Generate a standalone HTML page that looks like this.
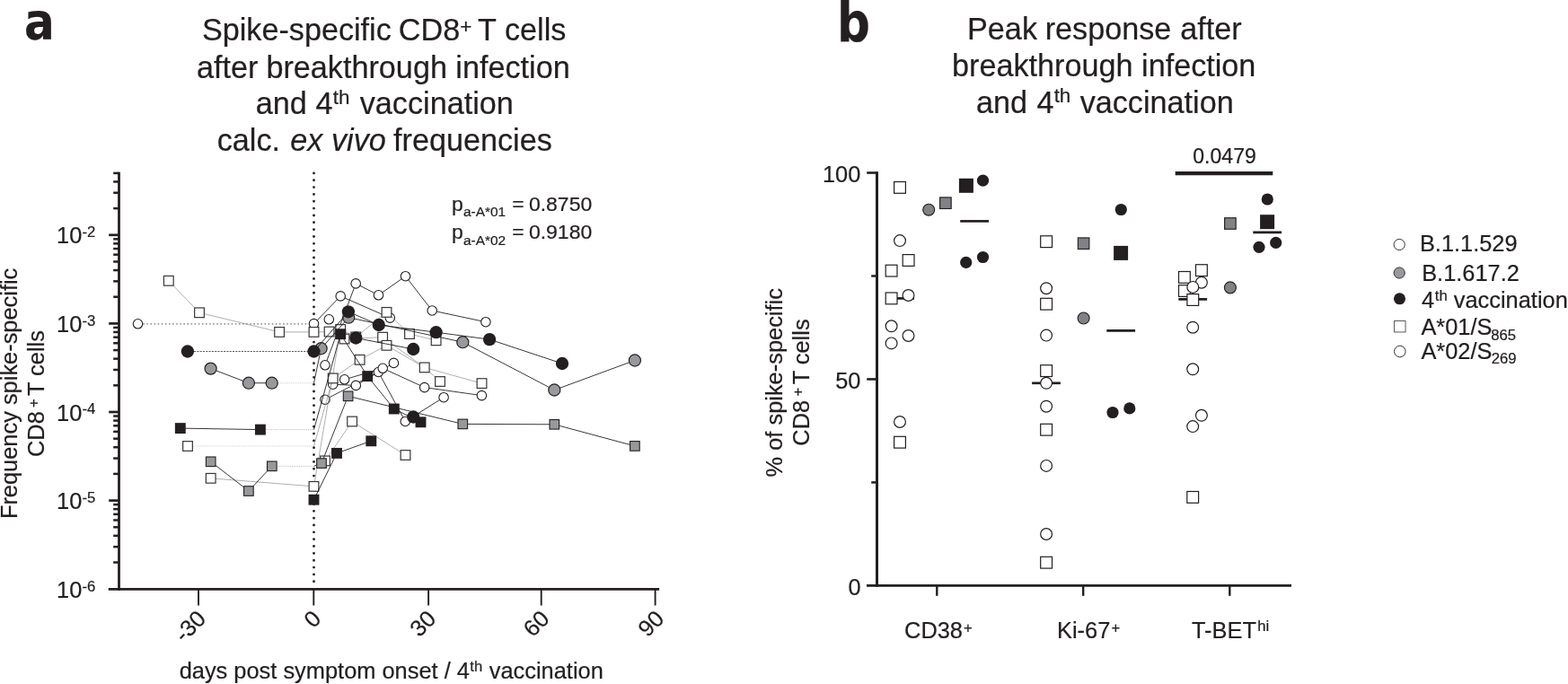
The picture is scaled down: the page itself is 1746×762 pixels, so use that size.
<!DOCTYPE html>
<html lang="en"><head><meta charset="utf-8"><title>Spike-specific CD8+ T cells after breakthrough infection and 4th vaccination</title>
<style>
html,body{margin:0;padding:0;background:#fff;overflow:hidden}
svg{display:block}
text{font-family:'Liberation Sans',sans-serif;fill:#231f20;white-space:pre;stroke:#231f20;stroke-width:0.22px;stroke-linejoin:round}
</style></head>
<body>
<svg width="1746" height="762" viewBox="0 0 1746 762">
<rect width="1746" height="762" fill="#fff"/>
<g id="panel-a">
<text transform="scale(0.87,1)" x="31.18" y="43.90" style="font-size:57.5px;font-weight:bold;font-family:'DejaVu Sans','Liberation Sans',sans-serif">a</text>
<text><tspan x="224.90" y="45.40" style="font-size:34.2px;">Spike-specific</tspan> <tspan x="443.75" y="45.40" style="font-size:34.2px;">CD8</tspan><tspan x="512.30" y="37.00" style="font-size:22.4px;">+</tspan> <tspan x="531.95" y="45.40" style="font-size:34.2px;">T</tspan> <tspan x="562.00" y="45.40" style="font-size:34.2px;">cells</tspan></text>
<text><tspan x="219.00" y="87.00" style="font-size:34.2px;">after</tspan> <tspan x="296.45" y="87.00" style="font-size:34.2px;">breakthrough</tspan> <tspan x="507.35" y="87.00" style="font-size:34.2px;">infection</tspan></text>
<text><tspan x="284.70" y="127.40" style="font-size:34.2px;">and</tspan> <tspan x="351.55" y="127.40" style="font-size:34.2px;">4</tspan><tspan x="370.75" y="116.15" style="font-size:22.4px;">th</tspan> <tspan x="400.75" y="127.40" style="font-size:34.2px;">vaccination</tspan></text>
<text><tspan x="241.70" y="168.00" style="font-size:34.2px;">calc.</tspan> <tspan x="323.15" y="168.00" style="font-size:34.2px;font-style:italic">ex</tspan> <tspan x="369.00" y="168.00" style="font-size:34.2px;font-style:italic">vivo</tspan> <tspan x="438.00" y="168.00" style="font-size:34.2px;">frequencies</tspan></text>
<line x1="132.50" y1="191.63" x2="132.50" y2="657.70" stroke="#231f20" stroke-width="2.8" />
<line x1="120.80" y1="656.30" x2="734.10" y2="656.30" stroke="#231f20" stroke-width="2.8" />
<line x1="126.20" y1="626.52" x2="132.50" y2="626.52" stroke="#231f20" stroke-width="2.5" />
<line x1="126.20" y1="609.16" x2="132.50" y2="609.16" stroke="#231f20" stroke-width="2.5" />
<line x1="126.20" y1="596.84" x2="132.50" y2="596.84" stroke="#231f20" stroke-width="2.5" />
<line x1="126.20" y1="587.28" x2="132.50" y2="587.28" stroke="#231f20" stroke-width="2.5" />
<line x1="126.20" y1="579.47" x2="132.50" y2="579.47" stroke="#231f20" stroke-width="2.5" />
<line x1="126.20" y1="572.87" x2="132.50" y2="572.87" stroke="#231f20" stroke-width="2.5" />
<line x1="126.20" y1="567.16" x2="132.50" y2="567.16" stroke="#231f20" stroke-width="2.5" />
<line x1="126.20" y1="562.11" x2="132.50" y2="562.11" stroke="#231f20" stroke-width="2.5" />
<line x1="121.20" y1="557.60" x2="132.50" y2="557.60" stroke="#231f20" stroke-width="2.7" />
<line x1="126.20" y1="527.92" x2="132.50" y2="527.92" stroke="#231f20" stroke-width="2.5" />
<line x1="126.20" y1="510.56" x2="132.50" y2="510.56" stroke="#231f20" stroke-width="2.5" />
<line x1="126.20" y1="498.24" x2="132.50" y2="498.24" stroke="#231f20" stroke-width="2.5" />
<line x1="126.20" y1="488.68" x2="132.50" y2="488.68" stroke="#231f20" stroke-width="2.5" />
<line x1="126.20" y1="480.87" x2="132.50" y2="480.87" stroke="#231f20" stroke-width="2.5" />
<line x1="126.20" y1="474.27" x2="132.50" y2="474.27" stroke="#231f20" stroke-width="2.5" />
<line x1="126.20" y1="468.56" x2="132.50" y2="468.56" stroke="#231f20" stroke-width="2.5" />
<line x1="126.20" y1="463.51" x2="132.50" y2="463.51" stroke="#231f20" stroke-width="2.5" />
<line x1="121.20" y1="459.00" x2="132.50" y2="459.00" stroke="#231f20" stroke-width="2.7" />
<line x1="126.20" y1="429.32" x2="132.50" y2="429.32" stroke="#231f20" stroke-width="2.5" />
<line x1="126.20" y1="411.96" x2="132.50" y2="411.96" stroke="#231f20" stroke-width="2.5" />
<line x1="126.20" y1="399.64" x2="132.50" y2="399.64" stroke="#231f20" stroke-width="2.5" />
<line x1="126.20" y1="390.08" x2="132.50" y2="390.08" stroke="#231f20" stroke-width="2.5" />
<line x1="126.20" y1="382.27" x2="132.50" y2="382.27" stroke="#231f20" stroke-width="2.5" />
<line x1="126.20" y1="375.67" x2="132.50" y2="375.67" stroke="#231f20" stroke-width="2.5" />
<line x1="126.20" y1="369.96" x2="132.50" y2="369.96" stroke="#231f20" stroke-width="2.5" />
<line x1="126.20" y1="364.91" x2="132.50" y2="364.91" stroke="#231f20" stroke-width="2.5" />
<line x1="121.20" y1="360.40" x2="132.50" y2="360.40" stroke="#231f20" stroke-width="2.7" />
<line x1="126.20" y1="330.72" x2="132.50" y2="330.72" stroke="#231f20" stroke-width="2.5" />
<line x1="126.20" y1="313.36" x2="132.50" y2="313.36" stroke="#231f20" stroke-width="2.5" />
<line x1="126.20" y1="301.04" x2="132.50" y2="301.04" stroke="#231f20" stroke-width="2.5" />
<line x1="126.20" y1="291.48" x2="132.50" y2="291.48" stroke="#231f20" stroke-width="2.5" />
<line x1="126.20" y1="283.67" x2="132.50" y2="283.67" stroke="#231f20" stroke-width="2.5" />
<line x1="126.20" y1="277.07" x2="132.50" y2="277.07" stroke="#231f20" stroke-width="2.5" />
<line x1="126.20" y1="271.36" x2="132.50" y2="271.36" stroke="#231f20" stroke-width="2.5" />
<line x1="126.20" y1="266.31" x2="132.50" y2="266.31" stroke="#231f20" stroke-width="2.5" />
<line x1="121.20" y1="261.80" x2="132.50" y2="261.80" stroke="#231f20" stroke-width="2.7" />
<line x1="126.20" y1="232.12" x2="132.50" y2="232.12" stroke="#231f20" stroke-width="2.5" />
<line x1="126.20" y1="214.76" x2="132.50" y2="214.76" stroke="#231f20" stroke-width="2.5" />
<line x1="126.20" y1="202.44" x2="132.50" y2="202.44" stroke="#231f20" stroke-width="2.5" />
<line x1="126.20" y1="192.88" x2="132.50" y2="192.88" stroke="#231f20" stroke-width="2.5" />
<line x1="221.00" y1="656.30" x2="221.00" y2="674.50" stroke="#231f20" stroke-width="1.9" />
<line x1="349.30" y1="656.30" x2="349.30" y2="674.50" stroke="#231f20" stroke-width="1.9" />
<line x1="477.10" y1="656.30" x2="477.10" y2="674.50" stroke="#231f20" stroke-width="1.9" />
<line x1="602.70" y1="656.30" x2="602.70" y2="674.50" stroke="#231f20" stroke-width="1.9" />
<line x1="729.60" y1="656.30" x2="729.60" y2="674.50" stroke="#231f20" stroke-width="1.9" />
<text><tspan x="63.10" y="271.40" style="font-size:25.4px;">10</tspan><tspan x="91.45" y="264.10" style="font-size:16.7px;">-2</tspan></text>
<text><tspan x="63.10" y="370.00" style="font-size:25.4px;">10</tspan><tspan x="91.45" y="362.70" style="font-size:16.7px;">-3</tspan></text>
<text><tspan x="63.10" y="468.60" style="font-size:25.4px;">10</tspan><tspan x="91.45" y="461.30" style="font-size:16.7px;">-4</tspan></text>
<text><tspan x="63.10" y="567.20" style="font-size:25.4px;">10</tspan><tspan x="91.45" y="559.90" style="font-size:16.7px;">-5</tspan></text>
<text><tspan x="63.10" y="665.80" style="font-size:25.4px;">10</tspan><tspan x="91.45" y="658.50" style="font-size:16.7px;">-6</tspan></text>
<text transform="translate(230.70,690.80) rotate(-45)" text-anchor="end" style="font-size:25.4px;">-30</text>
<text transform="translate(359.00,690.80) rotate(-45)" text-anchor="end" style="font-size:25.4px;">0</text>
<text transform="translate(487.10,690.80) rotate(-45)" text-anchor="end" style="font-size:25.4px;">30</text>
<text transform="translate(613.30,690.80) rotate(-45)" text-anchor="end" style="font-size:25.4px;">60</text>
<text transform="translate(741.10,690.80) rotate(-45)" text-anchor="end" style="font-size:25.4px;">90</text>
<text><tspan x="199.70" y="756.20" style="font-size:25.4px;">days post symptom onset / 4</tspan><tspan x="523.35" y="747.70" style="font-size:16.7px;">th</tspan> <tspan x="544.75" y="756.20" style="font-size:25.4px;">vaccination</tspan></text>
<text transform="rotate(-90)"><tspan x="-578.10" y="18.90" style="font-size:25.4px;">Frequency spike-specific</tspan></text>
<text transform="rotate(-90)"><tspan x="-509.05" y="49.40" style="font-size:25.4px;">CD8</tspan><tspan x="-454.05" y="43.23" style="font-size:16.7px;">+</tspan> <tspan x="-441.00" y="49.40" style="font-size:25.4px;">T cells</tspan></text>
<text transform="scale(1.045,1)"><tspan x="481.28" y="235.00" style="font-size:22.0px;">p</tspan><tspan x="493.70" y="241.50" style="font-size:14.8px;">a-A*01</tspan> <tspan x="545.60" y="235.00" style="font-size:22.0px;">=</tspan> <tspan x="563.56" y="235.00" style="font-size:22.0px;">0.8750</tspan></text>
<text transform="scale(1.045,1)"><tspan x="481.28" y="266.30" style="font-size:22.0px;">p</tspan><tspan x="493.70" y="272.80" style="font-size:14.8px;">a-A*02</tspan> <tspan x="545.60" y="266.30" style="font-size:22.0px;">=</tspan> <tspan x="563.56" y="266.30" style="font-size:22.0px;">0.9180</tspan></text>
<line x1="349.50" y1="192.90" x2="349.50" y2="649.50" stroke="#231f20" stroke-width="2.85" stroke-linecap="round" stroke-dasharray="0.01 7.832"/>
<line x1="159.30" y1="360.80" x2="349.50" y2="360.80" stroke="#6d6e71" stroke-width="1.2" stroke-dasharray="1.5 2.6"/>
<polyline points="349.50,360.60 379.20,329.90 434.30,354.10" fill="none" stroke="#231f20" stroke-width="0.9" stroke-linejoin="round" />
<polyline points="362.00,406.80 396.20,315.90 421.50,328.80 451.50,307.70 481.20,346.00 540.90,358.70" fill="none" stroke="#231f20" stroke-width="0.9" stroke-linejoin="round" />
<polyline points="370.70,428.20 396.30,429.40 438.40,404.40" fill="none" stroke="#231f20" stroke-width="0.9" stroke-linejoin="round" />
<polyline points="362.00,445.20 421.40,414.50 451.30,469.50 494.10,442.70" fill="none" stroke="#231f20" stroke-width="0.9" stroke-linejoin="round" />
<polyline points="383.60,422.80 426.20,410.30 472.70,431.60 536.40,440.60" fill="none" stroke="#231f20" stroke-width="0.9" stroke-linejoin="round" />
<circle cx="153.50" cy="360.80" r="5.25" fill="#fff" stroke="#231f20" stroke-width="1.1"/>
<circle cx="349.50" cy="360.60" r="5.25" fill="#fff" stroke="#231f20" stroke-width="1.1"/>
<circle cx="379.20" cy="329.90" r="5.25" fill="#fff" stroke="#231f20" stroke-width="1.1"/>
<circle cx="434.30" cy="354.10" r="5.25" fill="#fff" stroke="#231f20" stroke-width="1.1"/>
<circle cx="362.00" cy="406.80" r="5.25" fill="#fff" stroke="#231f20" stroke-width="1.1"/>
<circle cx="396.20" cy="315.90" r="5.25" fill="#fff" stroke="#231f20" stroke-width="1.1"/>
<circle cx="421.50" cy="328.80" r="5.25" fill="#fff" stroke="#231f20" stroke-width="1.1"/>
<circle cx="451.50" cy="307.70" r="5.25" fill="#fff" stroke="#231f20" stroke-width="1.1"/>
<circle cx="481.20" cy="346.00" r="5.25" fill="#fff" stroke="#231f20" stroke-width="1.1"/>
<circle cx="540.90" cy="358.70" r="5.25" fill="#fff" stroke="#231f20" stroke-width="1.1"/>
<circle cx="366.30" cy="355.80" r="5.25" fill="#fff" stroke="#231f20" stroke-width="1.1"/>
<circle cx="370.70" cy="428.20" r="5.25" fill="#fff" stroke="#231f20" stroke-width="1.1"/>
<circle cx="396.30" cy="429.40" r="5.25" fill="#fff" stroke="#231f20" stroke-width="1.1"/>
<circle cx="438.40" cy="404.40" r="5.25" fill="#fff" stroke="#231f20" stroke-width="1.1"/>
<circle cx="362.00" cy="445.20" r="5.25" fill="#fff" stroke="#231f20" stroke-width="1.1"/>
<circle cx="421.40" cy="414.50" r="5.25" fill="#fff" stroke="#231f20" stroke-width="1.1"/>
<circle cx="451.30" cy="469.50" r="5.25" fill="#fff" stroke="#231f20" stroke-width="1.1"/>
<circle cx="494.10" cy="442.70" r="5.25" fill="#fff" stroke="#231f20" stroke-width="1.1"/>
<circle cx="383.60" cy="422.80" r="5.25" fill="#fff" stroke="#231f20" stroke-width="1.1"/>
<circle cx="426.20" cy="410.30" r="5.25" fill="#fff" stroke="#231f20" stroke-width="1.1"/>
<circle cx="472.70" cy="431.60" r="5.25" fill="#fff" stroke="#231f20" stroke-width="1.1"/>
<circle cx="536.40" cy="440.60" r="5.25" fill="#fff" stroke="#231f20" stroke-width="1.1"/>
<polyline points="187.80,312.80 222.00,348.30 311.10,369.90" fill="none" stroke="#8a8c8e" stroke-width="0.7" stroke-linejoin="round" />
<line x1="311.10" y1="369.90" x2="349.50" y2="369.90" stroke="#8a8c8e" stroke-width="0.7" />
<polyline points="349.50,369.90 366.60,369.50 383.50,377.50 426.10,375.70 472.70,409.40 490.00,425.00" fill="none" stroke="#8a8c8e" stroke-width="0.7" stroke-linejoin="round" />
<line x1="234.70" y1="532.80" x2="349.50" y2="541.90" stroke="#8a8c8e" stroke-width="0.7" />
<polyline points="349.50,541.90 379.20,367.00 396.30,375.40 430.50,347.90 456.00,372.00 485.60,379.30" fill="none" stroke="#8a8c8e" stroke-width="0.7" stroke-linejoin="round" />
<polyline points="362.00,513.40 392.10,469.50 451.50,507.00" fill="none" stroke="#8a8c8e" stroke-width="0.7" stroke-linejoin="round" />
<line x1="214.95" y1="497.00" x2="349.50" y2="497.00" stroke="#c4c6c8" stroke-width="1.6" stroke-dasharray="0.6 1.45"/>
<polyline points="349.50,497.00 370.70,421.40 400.60,400.80 430.50,384.80 472.70,409.40 536.50,427.10" fill="none" stroke="#8a8c8e" stroke-width="0.7" stroke-linejoin="round" />
<rect x="182.45" y="307.45" width="10.70" height="10.70" fill="#fff" stroke="#3a3637" stroke-width="1.2"/>
<rect x="216.65" y="342.95" width="10.70" height="10.70" fill="#fff" stroke="#3a3637" stroke-width="1.2"/>
<rect x="305.75" y="364.55" width="10.70" height="10.70" fill="#fff" stroke="#3a3637" stroke-width="1.2"/>
<rect x="344.15" y="364.55" width="10.70" height="10.70" fill="#fff" stroke="#3a3637" stroke-width="1.2"/>
<rect x="361.25" y="364.15" width="10.70" height="10.70" fill="#fff" stroke="#3a3637" stroke-width="1.2"/>
<rect x="378.15" y="372.15" width="10.70" height="10.70" fill="#fff" stroke="#3a3637" stroke-width="1.2"/>
<rect x="420.75" y="370.35" width="10.70" height="10.70" fill="#fff" stroke="#3a3637" stroke-width="1.2"/>
<rect x="467.35" y="404.05" width="10.70" height="10.70" fill="#fff" stroke="#3a3637" stroke-width="1.2"/>
<rect x="484.65" y="419.65" width="10.70" height="10.70" fill="#fff" stroke="#3a3637" stroke-width="1.2"/>
<rect x="229.35" y="527.45" width="10.70" height="10.70" fill="#fff" stroke="#3a3637" stroke-width="1.2"/>
<rect x="344.15" y="536.55" width="10.70" height="10.70" fill="#fff" stroke="#3a3637" stroke-width="1.2"/>
<rect x="373.85" y="361.65" width="10.70" height="10.70" fill="#fff" stroke="#3a3637" stroke-width="1.2"/>
<rect x="390.95" y="370.05" width="10.70" height="10.70" fill="#fff" stroke="#3a3637" stroke-width="1.2"/>
<rect x="425.15" y="342.55" width="10.70" height="10.70" fill="#fff" stroke="#3a3637" stroke-width="1.2"/>
<rect x="450.65" y="366.65" width="10.70" height="10.70" fill="#fff" stroke="#3a3637" stroke-width="1.2"/>
<rect x="480.25" y="373.95" width="10.70" height="10.70" fill="#fff" stroke="#3a3637" stroke-width="1.2"/>
<rect x="356.65" y="508.05" width="10.70" height="10.70" fill="#fff" stroke="#3a3637" stroke-width="1.2"/>
<rect x="386.75" y="464.15" width="10.70" height="10.70" fill="#fff" stroke="#3a3637" stroke-width="1.2"/>
<rect x="446.15" y="501.65" width="10.70" height="10.70" fill="#fff" stroke="#3a3637" stroke-width="1.2"/>
<rect x="203.65" y="491.65" width="10.70" height="10.70" fill="#fff" stroke="#3a3637" stroke-width="1.2"/>
<rect x="365.35" y="416.05" width="10.70" height="10.70" fill="#fff" stroke="#3a3637" stroke-width="1.2"/>
<rect x="395.25" y="395.45" width="10.70" height="10.70" fill="#fff" stroke="#3a3637" stroke-width="1.2"/>
<rect x="425.15" y="379.45" width="10.70" height="10.70" fill="#fff" stroke="#3a3637" stroke-width="1.2"/>
<rect x="531.15" y="421.75" width="10.70" height="10.70" fill="#fff" stroke="#3a3637" stroke-width="1.2"/>
<polyline points="234.70,514.30 276.90,547.00 302.80,519.30" fill="none" stroke="#231f20" stroke-width="0.9" stroke-linejoin="round" />
<line x1="308.65" y1="519.30" x2="349.50" y2="519.30" stroke="#a7a9ac" stroke-width="1.0" stroke-dasharray="0.8 1.25"/>
<polyline points="349.50,519.30 358.00,516.10 387.60,441.30 515.30,472.40 617.30,472.80 706.90,496.90" fill="none" stroke="#231f20" stroke-width="0.9" stroke-linejoin="round" />
<rect x="229.40" y="509.00" width="10.60" height="10.60" fill="#97999c" stroke="#231f20" stroke-width="1.1"/>
<rect x="271.60" y="541.70" width="10.60" height="10.60" fill="#97999c" stroke="#231f20" stroke-width="1.1"/>
<rect x="297.50" y="514.00" width="10.60" height="10.60" fill="#97999c" stroke="#231f20" stroke-width="1.1"/>
<rect x="352.70" y="510.80" width="10.60" height="10.60" fill="#97999c" stroke="#231f20" stroke-width="1.1"/>
<rect x="382.30" y="436.00" width="10.60" height="10.60" fill="#97999c" stroke="#231f20" stroke-width="1.1"/>
<rect x="510.00" y="467.10" width="10.60" height="10.60" fill="#97999c" stroke="#231f20" stroke-width="1.1"/>
<rect x="612.00" y="467.50" width="10.60" height="10.60" fill="#97999c" stroke="#231f20" stroke-width="1.1"/>
<rect x="701.60" y="491.60" width="10.60" height="10.60" fill="#97999c" stroke="#231f20" stroke-width="1.1"/>
<polyline points="234.60,410.60 276.90,426.70 302.70,426.70" fill="none" stroke="#231f20" stroke-width="0.9" stroke-linejoin="round" />
<line x1="309.85" y1="426.70" x2="349.50" y2="426.70" stroke="#c4c6c8" stroke-width="1.6" stroke-dasharray="0.6 1.45"/>
<polyline points="349.50,426.70 357.60,388.20 388.20,353.70 515.30,381.20 617.30,434.50 706.90,401.50" fill="none" stroke="#231f20" stroke-width="0.9" stroke-linejoin="round" />
<circle cx="234.60" cy="410.60" r="6.55" fill="#97999c" stroke="#231f20" stroke-width="1.2"/>
<circle cx="276.90" cy="426.70" r="6.55" fill="#97999c" stroke="#231f20" stroke-width="1.2"/>
<circle cx="302.70" cy="426.70" r="6.55" fill="#97999c" stroke="#231f20" stroke-width="1.2"/>
<circle cx="357.60" cy="388.20" r="6.55" fill="#97999c" stroke="#231f20" stroke-width="1.2"/>
<circle cx="388.20" cy="353.70" r="6.55" fill="#97999c" stroke="#231f20" stroke-width="1.2"/>
<circle cx="515.30" cy="381.20" r="6.55" fill="#97999c" stroke="#231f20" stroke-width="1.2"/>
<circle cx="617.30" cy="434.50" r="6.55" fill="#97999c" stroke="#231f20" stroke-width="1.2"/>
<circle cx="706.90" cy="401.50" r="6.55" fill="#97999c" stroke="#231f20" stroke-width="1.2"/>
<polyline points="200.80,477.10 289.90,478.60" fill="none" stroke="#231f20" stroke-width="0.9" stroke-linejoin="round" />
<line x1="295.85" y1="478.60" x2="349.50" y2="478.60" stroke="#a7a9ac" stroke-width="1.0" stroke-dasharray="0.8 1.25"/>
<polyline points="349.50,478.60 379.20,372.20 409.20,419.10 438.80,455.50 468.50,470.30" fill="none" stroke="#231f20" stroke-width="0.9" stroke-linejoin="round" />
<polyline points="349.50,556.70 375.00,504.90 413.30,491.30" fill="none" stroke="#231f20" stroke-width="0.9" stroke-linejoin="round" />
<rect x="194.85" y="471.15" width="11.90" height="11.90" fill="#231f20"/>
<rect x="283.95" y="472.65" width="11.90" height="11.90" fill="#231f20"/>
<rect x="373.25" y="366.25" width="11.90" height="11.90" fill="#231f20"/>
<rect x="403.25" y="413.15" width="11.90" height="11.90" fill="#231f20"/>
<rect x="432.85" y="449.55" width="11.90" height="11.90" fill="#231f20"/>
<rect x="462.55" y="464.35" width="11.90" height="11.90" fill="#231f20"/>
<rect x="343.55" y="550.75" width="11.90" height="11.90" fill="#231f20"/>
<rect x="369.05" y="498.95" width="11.90" height="11.90" fill="#231f20"/>
<rect x="407.35" y="485.35" width="11.90" height="11.90" fill="#231f20"/>
<line x1="216.05" y1="391.50" x2="349.50" y2="391.50" stroke="#231f20" stroke-width="0.75" stroke-dasharray="2.1 1.2"/>
<polyline points="349.50,391.50 387.90,347.30 421.80,362.00 485.60,370.20 545.10,378.10 626.00,405.00" fill="none" stroke="#231f20" stroke-width="0.9" stroke-linejoin="round" />
<polyline points="396.30,376.50 460.20,389.00" fill="none" stroke="#231f20" stroke-width="0.9" stroke-linejoin="round" />
<circle cx="208.90" cy="391.50" r="7.15" fill="#231f20"/>
<circle cx="349.50" cy="391.50" r="7.15" fill="#231f20"/>
<circle cx="387.90" cy="347.30" r="7.15" fill="#231f20"/>
<circle cx="421.80" cy="362.00" r="7.15" fill="#231f20"/>
<circle cx="485.60" cy="370.20" r="7.15" fill="#231f20"/>
<circle cx="545.10" cy="378.10" r="7.15" fill="#231f20"/>
<circle cx="626.00" cy="405.00" r="7.15" fill="#231f20"/>
<circle cx="396.30" cy="376.50" r="7.15" fill="#231f20"/>
<circle cx="460.20" cy="389.00" r="7.15" fill="#231f20"/>
<circle cx="460.20" cy="464.50" r="7.15" fill="#231f20"/>
</g>
<g id="panel-b">
<text transform="scale(0.86,1)" x="1083.84" y="46.30" style="font-size:60px;font-weight:bold;font-family:'DejaVu Sans','Liberation Sans',sans-serif">b</text>
<text><tspan x="1077.05" y="44.40" style="font-size:34.2px;">Peak</tspan> <tspan x="1163.65" y="44.40" style="font-size:34.2px;">response</tspan> <tspan x="1314.20" y="44.40" style="font-size:34.2px;">after</tspan></text>
<text><tspan x="1060.05" y="84.90" style="font-size:34.2px;">breakthrough</tspan> <tspan x="1271.05" y="84.90" style="font-size:34.2px;">infection</tspan></text>
<text><tspan x="1087.00" y="125.60" style="font-size:34.2px;">and</tspan> <tspan x="1154.45" y="125.60" style="font-size:34.2px;">4</tspan><tspan x="1173.65" y="114.15" style="font-size:22.4px;">th</tspan> <tspan x="1202.65" y="125.60" style="font-size:34.2px;">vaccination</tspan></text>
<line x1="976.50" y1="191.20" x2="976.50" y2="653.70" stroke="#231f20" stroke-width="3.0" />
<line x1="965.00" y1="652.40" x2="1438.00" y2="652.40" stroke="#231f20" stroke-width="2.8" />
<line x1="970.20" y1="537.42" x2="976.50" y2="537.42" stroke="#231f20" stroke-width="2.5" />
<line x1="965.20" y1="422.45" x2="976.50" y2="422.45" stroke="#231f20" stroke-width="2.6" />
<line x1="970.20" y1="307.47" x2="976.50" y2="307.47" stroke="#231f20" stroke-width="2.5" />
<line x1="965.20" y1="192.50" x2="976.50" y2="192.50" stroke="#231f20" stroke-width="2.6" />
<line x1="1043.30" y1="652.40" x2="1043.30" y2="663.80" stroke="#231f20" stroke-width="2.4" />
<line x1="1206.20" y1="652.40" x2="1206.20" y2="663.80" stroke="#231f20" stroke-width="2.4" />
<line x1="1369.30" y1="652.40" x2="1369.30" y2="663.80" stroke="#231f20" stroke-width="2.4" />
<text x="915.90" y="202.70" style="font-size:25.4px;">100</text>
<text x="930.20" y="432.60" style="font-size:25.4px;">50</text>
<text x="944.60" y="662.60" style="font-size:25.4px;">0</text>
<text><tspan x="1007.05" y="710.60" style="font-size:25.4px;">CD38</tspan><tspan x="1073.05" y="704.52" style="font-size:16.7px;">+</tspan></text>
<text><tspan x="1177.00" y="710.60" style="font-size:25.4px;">Ki-67</tspan><tspan x="1237.55" y="704.52" style="font-size:16.7px;">+</tspan></text>
<text><tspan x="1327.00" y="710.60" style="font-size:25.4px;">T-BET</tspan><tspan x="1400.35" y="703.20" style="font-size:16.7px;">hi</tspan></text>
<text transform="rotate(-90)"><tspan x="-531.40" y="870.70" style="font-size:25.4px;">% of spike-specific</tspan></text>
<text transform="rotate(-90)"><tspan x="-496.65" y="900.90" style="font-size:25.4px;">CD8</tspan><tspan x="-441.45" y="893.92" style="font-size:16.7px;">+</tspan> <tspan x="-428.30" y="900.90" style="font-size:25.4px;">T cells</tspan></text>
<line x1="986.10" y1="332.40" x2="1017.90" y2="332.40" stroke="#231f20" stroke-width="2.7" />
<rect x="995.60" y="202.50" width="12.80" height="12.80" fill="#fff" stroke="#231f20" stroke-width="1.2"/>
<rect x="1005.20" y="283.60" width="12.80" height="12.80" fill="#fff" stroke="#231f20" stroke-width="1.2"/>
<rect x="986.20" y="295.20" width="12.80" height="12.80" fill="#fff" stroke="#231f20" stroke-width="1.2"/>
<rect x="986.20" y="326.00" width="12.80" height="12.80" fill="#fff" stroke="#231f20" stroke-width="1.2"/>
<rect x="995.60" y="486.30" width="12.80" height="12.80" fill="#fff" stroke="#231f20" stroke-width="1.2"/>
<circle cx="1002.00" cy="268.10" r="6.40" fill="#fff" stroke="#231f20" stroke-width="1.2"/>
<circle cx="1011.50" cy="329.00" r="6.40" fill="#fff" stroke="#231f20" stroke-width="1.2"/>
<circle cx="992.60" cy="363.30" r="6.40" fill="#fff" stroke="#231f20" stroke-width="1.2"/>
<circle cx="1011.50" cy="374.00" r="6.40" fill="#fff" stroke="#231f20" stroke-width="1.2"/>
<circle cx="992.60" cy="382.40" r="6.40" fill="#fff" stroke="#231f20" stroke-width="1.2"/>
<circle cx="1002.00" cy="470.00" r="6.40" fill="#fff" stroke="#231f20" stroke-width="1.2"/>
<circle cx="1034.20" cy="233.70" r="6.47" fill="#808285" stroke="#231f20" stroke-width="1.15"/>
<rect x="1046.62" y="219.92" width="12.55" height="12.55" fill="#808285" stroke="#231f20" stroke-width="1.15"/>
<line x1="1069.20" y1="246.40" x2="1101.00" y2="246.40" stroke="#231f20" stroke-width="2.7" />
<rect x="1067.90" y="198.80" width="16.00" height="16.00" fill="#231f20"/>
<circle cx="1094.50" cy="201.20" r="6.60" fill="#231f20"/>
<circle cx="1075.70" cy="292.40" r="6.60" fill="#231f20"/>
<circle cx="1094.50" cy="286.50" r="6.60" fill="#231f20"/>
<line x1="1149.10" y1="426.80" x2="1180.90" y2="426.80" stroke="#231f20" stroke-width="2.7" />
<rect x="1158.70" y="262.80" width="12.80" height="12.80" fill="#fff" stroke="#231f20" stroke-width="1.2"/>
<rect x="1158.70" y="332.30" width="12.80" height="12.80" fill="#fff" stroke="#231f20" stroke-width="1.2"/>
<rect x="1158.70" y="406.70" width="12.80" height="12.80" fill="#fff" stroke="#231f20" stroke-width="1.2"/>
<rect x="1158.70" y="472.30" width="12.80" height="12.80" fill="#fff" stroke="#231f20" stroke-width="1.2"/>
<rect x="1158.70" y="620.30" width="12.80" height="12.80" fill="#fff" stroke="#231f20" stroke-width="1.2"/>
<circle cx="1165.10" cy="321.20" r="6.40" fill="#fff" stroke="#231f20" stroke-width="1.2"/>
<circle cx="1165.10" cy="373.60" r="6.40" fill="#fff" stroke="#231f20" stroke-width="1.2"/>
<circle cx="1165.10" cy="426.80" r="6.40" fill="#fff" stroke="#231f20" stroke-width="1.2"/>
<circle cx="1165.10" cy="452.70" r="6.40" fill="#fff" stroke="#231f20" stroke-width="1.2"/>
<circle cx="1165.10" cy="518.90" r="6.40" fill="#fff" stroke="#231f20" stroke-width="1.2"/>
<circle cx="1165.10" cy="595.00" r="6.40" fill="#fff" stroke="#231f20" stroke-width="1.2"/>
<rect x="1200.32" y="264.93" width="12.55" height="12.55" fill="#808285" stroke="#231f20" stroke-width="1.15"/>
<circle cx="1206.60" cy="354.50" r="6.47" fill="#808285" stroke="#231f20" stroke-width="1.15"/>
<line x1="1232.30" y1="368.30" x2="1264.10" y2="368.30" stroke="#231f20" stroke-width="2.7" />
<circle cx="1248.30" cy="233.50" r="6.60" fill="#231f20"/>
<rect x="1240.10" y="273.90" width="16.00" height="16.00" fill="#231f20"/>
<circle cx="1239.00" cy="459.50" r="6.60" fill="#231f20"/>
<circle cx="1257.80" cy="454.90" r="6.60" fill="#231f20"/>
<line x1="1312.30" y1="333.40" x2="1344.10" y2="333.40" stroke="#231f20" stroke-width="2.7" />
<rect x="1331.50" y="294.75" width="12.80" height="12.80" fill="#fff" stroke="#231f20" stroke-width="1.2"/>
<rect x="1312.50" y="302.50" width="12.80" height="12.80" fill="#fff" stroke="#231f20" stroke-width="1.2"/>
<rect x="1312.50" y="317.60" width="12.80" height="12.80" fill="#fff" stroke="#231f20" stroke-width="1.2"/>
<rect x="1321.80" y="547.50" width="12.80" height="12.80" fill="#fff" stroke="#231f20" stroke-width="1.2"/>
<circle cx="1337.90" cy="314.70" r="6.40" fill="#fff" stroke="#231f20" stroke-width="1.2"/>
<circle cx="1328.30" cy="319.90" r="6.40" fill="#fff" stroke="#231f20" stroke-width="1.2"/>
<circle cx="1328.20" cy="364.70" r="6.40" fill="#fff" stroke="#231f20" stroke-width="1.2"/>
<circle cx="1328.20" cy="411.30" r="6.40" fill="#fff" stroke="#231f20" stroke-width="1.2"/>
<circle cx="1337.90" cy="462.80" r="6.40" fill="#fff" stroke="#231f20" stroke-width="1.2"/>
<circle cx="1328.20" cy="475.10" r="6.40" fill="#fff" stroke="#231f20" stroke-width="1.2"/>
<rect x="1321.90" y="327.60" width="12.80" height="12.80" fill="#fff" stroke="#231f20" stroke-width="1.2"/>
<rect x="1363.62" y="242.72" width="12.55" height="12.55" fill="#808285" stroke="#231f20" stroke-width="1.15"/>
<circle cx="1369.90" cy="320.40" r="6.47" fill="#808285" stroke="#231f20" stroke-width="1.15"/>
<line x1="1395.30" y1="258.80" x2="1427.10" y2="258.80" stroke="#231f20" stroke-width="2.7" />
<circle cx="1411.30" cy="222.00" r="6.60" fill="#231f20"/>
<rect x="1403.10" y="239.20" width="16.00" height="16.00" fill="#231f20"/>
<circle cx="1402.00" cy="275.30" r="6.60" fill="#231f20"/>
<circle cx="1420.70" cy="270.40" r="6.60" fill="#231f20"/>
<line x1="1308.70" y1="193.10" x2="1417.30" y2="193.10" stroke="#231f20" stroke-width="4.2" />
<text transform="scale(0.985,1)" x="1348.54" y="182.30" style="font-size:23.4px;">0.0479</text>
</g>
<g id="legend">
<circle cx="1558.20" cy="272.50" r="6.10" fill="#fff" stroke="#231f20" stroke-width="0.9"/>
<text x="1580.90" y="280.20" style="font-size:25.4px;">B.1.1.529</text>
<circle cx="1558.20" cy="304.00" r="6.10" fill="#97999c" stroke="#231f20" stroke-width="0.9"/>
<text x="1583.20" y="313.00" style="font-size:25.4px;">B.1.617.2</text>
<circle cx="1558.50" cy="332.80" r="6.55" fill="#231f20"/>
<text><tspan x="1583.10" y="342.70" style="font-size:25.4px;">4</tspan><tspan x="1597.75" y="335.40" style="font-size:16.7px;">th</tspan> <tspan x="1618.75" y="342.70" style="font-size:25.4px;">vaccination</tspan></text>
<rect x="1552.55" y="357.45" width="12.50" height="12.50" fill="#fff" stroke="#58595b" stroke-width="1.0"/>
<text><tspan x="1582.45" y="372.80" style="font-size:25.4px;">A*01/S</tspan><tspan x="1660.25" y="378.60" style="font-size:16.7px;">865</tspan></text>
<circle cx="1558.80" cy="391.50" r="6.30" fill="#fff" stroke="#231f20" stroke-width="0.9"/>
<text><tspan x="1582.45" y="399.50" style="font-size:25.4px;">A*02/S</tspan><tspan x="1660.75" y="405.30" style="font-size:16.7px;">269</tspan></text>
</g>
</svg>
</body></html>
